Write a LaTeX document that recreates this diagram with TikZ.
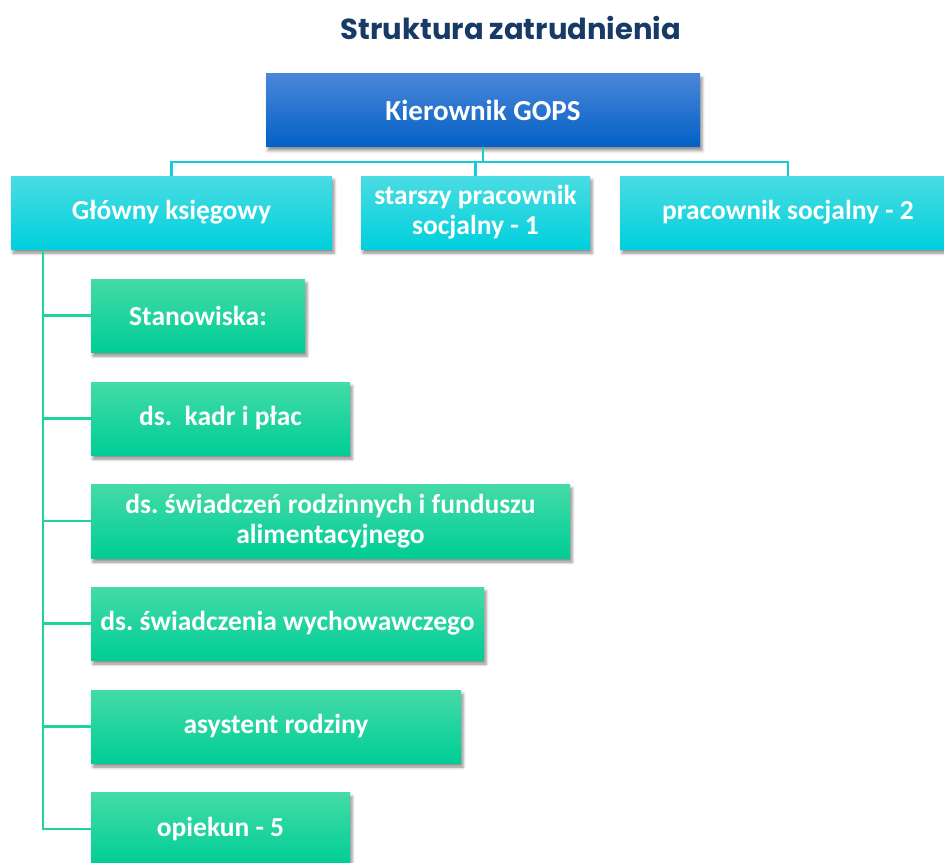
\documentclass[tikz,border=0pt]{standalone}
\usepackage{fontspec}
\setmainfont{Carlito}
\newfontfamily\titlefont{Poppins}
\usepackage{tikz}
\usetikzlibrary{positioning}
\usetikzlibrary{shadows.blur}
\frenchspacing

\definecolor{navytitle}{HTML}{173A66}
\definecolor{bosstop}{HTML}{4A86D8}
\definecolor{bossbot}{HTML}{0461C6}
\definecolor{tealtop}{HTML}{4ADCE2}
\definecolor{tealbot}{HTML}{00D0DD}
\definecolor{greentop}{HTML}{44DBA6}
\definecolor{greenbot}{HTML}{00CD96}
\definecolor{tealline}{HTML}{14CCD8}
\definecolor{greenline}{HTML}{1DD39E}

\tikzset{
  orgbox/.style={rectangle, minimum height=73pt, text=white, align=center,
    font=\fontsize{27.5}{30}\selectfont\bfseries, inner sep=0pt,
    blur shadow={shadow xshift=2pt, shadow yshift=-4pt, shadow blur radius=3pt, shadow opacity=45}},
  bossbox/.style={orgbox, top color=bosstop, bottom color=bossbot},
  tealbox/.style={orgbox, top color=tealtop, bottom color=tealbot},
  greenbox/.style={orgbox, top color=greentop, bottom color=greenbot},
  tealconn/.style={draw=tealline, line width=2.6pt},
  greenconn/.style={draw=greenline, line width=2.6pt}
}

\begin{document}
\begin{tikzpicture}[x=1pt, y=-1pt]
  \clip (0,0) rectangle (944,862);

  % title
  \node[font=\titlefont\fontsize{29}{33}\selectfont\bfseries, text=navytitle] (title) at (511,28) {Struktura zatrudnienia};

  % points of the tree lines
  \coordinate (split) at (483,162);
  \coordinate (trunk) at (43,249);

  % top level
  \node[bossbox, minimum width=434pt, font=\fontsize{29}{32}\selectfont\bfseries] (boss) at (483,110) {Kierownik GOPS};
  \node[tealbox, minimum width=321pt] (glowny) at (171.5,212.5) {Główny księgowy};
  \node[tealbox, minimum width=229pt] (starszy) at (475.5,212.5) {starszy pracownik\\socjalny - 1};
  \node[tealbox, minimum width=336pt] (pracownik) at (788,212.5) {pracownik socjalny - 2};

  % positions
  \node[greenbox, minimum width=214pt] (stan) at (198,315.5) {Stanowiska:};
  \node[greenbox, minimum width=259pt] (kadry) at (220.5,418.5) {ds.\ \ kadr i płac};
  \node[greenbox, minimum width=479pt, minimum height=74pt] (swiad) at (330.5,521) {ds. świadczeń rodzinnych i funduszu\\alimentacyjnego};
  \node[greenbox, minimum width=393pt] (wych) at (287.5,623.5) {ds. świadczenia wychowawczego};
  \node[greenbox, minimum width=370pt] (asyst) at (276,726.5) {asystent rodziny};
  \node[greenbox, minimum width=259pt] (opiekun) at (220.5,829) {opiekun - 5};

  % tree lines
  \draw[tealconn] (boss.south) -- (split);
  \draw[tealconn] (glowny.north) |- (split) -| (pracownik.north);
  \draw[tealconn] (starszy.north) -- (starszy.north |- split);

  \draw[greenconn] (trunk) |- (opiekun.west);
  \foreach \n in {stan, kadry, swiad, wych, asyst}
    \draw[greenconn] (\n.west) -- (\n.west -| trunk);
\end{tikzpicture}
\end{document}
